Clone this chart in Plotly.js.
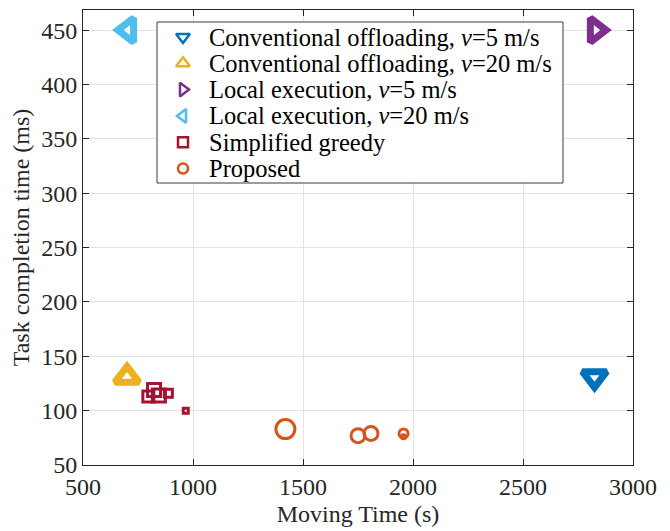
<!DOCTYPE html>
<html>
<head>
<meta charset="utf-8">
<script src="https://cdn.plot.ly/plotly-3.0.1.min.js"></script>
<style>
  html, body { margin: 0; padding: 0; background: #fff; }
  #chart { width: 670px; height: 531px; }
</style>
</head>
<body>
<div id="chart"></div>
<script>
// Moving time (s) vs task completion time (ms) for each scheme
const convV5X = [2825];
const convV5Y = [131];
const convV20X = [700];
const convV20Y = [131];
const localV5X = [2830];
const localV5Y = [450];
const localV20X = [706];
const localV20Y = [450];
const greedyX = [797, 823, 845, 888, 967];
const greedyY = [113, 119, 114, 116, 100];
const proposedX = [1420, 1750, 1809, 1957, 1957];
const proposedY = [83, 77, 79, 79, 76];

// marker sizes (px) per point
const greedySizes = [11, 13, 13, 8, 5];
const proposedSizes = [19, 14, 14, 9, 4];

const seriesNames = [
  'Conventional offloading, <i>v</i>=5 m/s',
  'Conventional offloading, <i>v</i>=20 m/s',
  'Local execution, <i>v</i>=5 m/s',
  'Local execution, <i>v</i>=20 m/s',
  'Simplified greedy',
  'Proposed'
];
const seriesSymbols = ['triangle-down-open', 'triangle-up-open', 'triangle-right-open',
                       'triangle-left-open', 'square-open', 'circle-open'];
const seriesColors = ['#0072BD', '#EDB120', '#7E2F8E', '#4DBEEE', '#A2142F', '#D95319'];

const serif = '"Liberation Serif", "Times New Roman", Times, serif';
const ink = '#262626';

function pts(i, x, y, size, lw) {
  return {
    type: 'scatter', mode: 'markers', x: x, y: y, showlegend: false,
    hoverinfo: 'skip', name: seriesNames[i],
    marker: { symbol: seriesSymbols[i], size: size, color: seriesColors[i], opacity: 1,
              line: { color: seriesColors[i], width: lw } }
  };
}

const data = [
  pts(0, convV5X, convV5Y, 21, 7),
  pts(1, convV20X, convV20Y, 21, 7),
  pts(2, localV5X, localV5Y, 21, 7),
  pts(3, localV20X, localV20Y, 21, 7),
  pts(4, greedyX, greedyY, greedySizes, 3),
  pts(5, proposedX, proposedY, proposedSizes, 3)
];

// Legend box drawn on a pixel-unit overlay axis (x: 83..633, y: 10..465 top-down)
const box = { left: 157, right: 563, top: 22, bottom: 183 };
const keyX = 183, textX = 207, rowY0 = 37, rowStep = 26.3;
const rowY = seriesNames.map((_, i) => rowY0 + i * rowStep);

data.push({
  type: 'scatter', mode: 'lines', xaxis: 'x2', yaxis: 'y2', showlegend: false, hoverinfo: 'skip',
  x: [box.left, box.right, box.right, box.left, box.left],
  y: [box.top, box.top, box.bottom, box.bottom, box.top],
  fill: 'toself', fillcolor: '#ffffff', line: { color: '#3a3a3a', width: 1 }
});
seriesNames.forEach((name, i) => {
  data.push({
    type: 'scatter', mode: 'markers', xaxis: 'x2', yaxis: 'y2', showlegend: false, hoverinfo: 'skip',
    x: [keyX], y: [rowY[i]],
    marker: { symbol: seriesSymbols[i], size: i < 4 ? 12 : 10, color: seriesColors[i], opacity: 1,
              line: { color: seriesColors[i], width: 2.5 } }
  });
});

const annotations = seriesNames.map((name, i) => ({
  xref: 'x2', yref: 'y2', x: textX, y: rowY[i], text: name, showarrow: false,
  xanchor: 'left', yanchor: 'middle', font: { family: serif, size: 24.5, color: '#000' }
}));

const axisBase = {
  showline: true, linecolor: ink, linewidth: 1,
  mirror: 'ticks', ticks: 'inside', ticklen: 6, tickcolor: ink,
  showgrid: true, gridcolor: '#e3e3e3', gridwidth: 1, zeroline: false,
  tickfont: { family: serif, size: 24, color: ink }
};

const layout = {
  width: 670, height: 531,
  margin: { l: 83, r: 37, t: 10, b: 66 },
  paper_bgcolor: '#fff', plot_bgcolor: '#fff',
  font: { family: serif, color: ink },
  showlegend: false,
  xaxis: Object.assign({}, axisBase, {
    range: [500, 3000], tickvals: [500, 1000, 1500, 2000, 2500, 3000],
    title: { text: 'Moving Time (s)', font: { family: serif, size: 24, color: ink }, standoff: 6 }
  }),
  yaxis: Object.assign({}, axisBase, {
    range: [50, 468.5], tickvals: [50, 100, 150, 200, 250, 300, 350, 400, 450],
    title: { text: 'Task completion time (ms)', font: { family: serif, size: 24, color: ink }, standoff: 4 }
  }),
  xaxis2: { overlaying: 'x', anchor: 'y2', range: [83, 633], visible: false, fixedrange: true },
  yaxis2: { overlaying: 'y', anchor: 'x2', range: [465, 10], visible: false, fixedrange: true },
  annotations: annotations
};

Plotly.newPlot('chart', data, layout, { displayModeBar: false, staticPlot: true });
</script>
</body>
</html>
